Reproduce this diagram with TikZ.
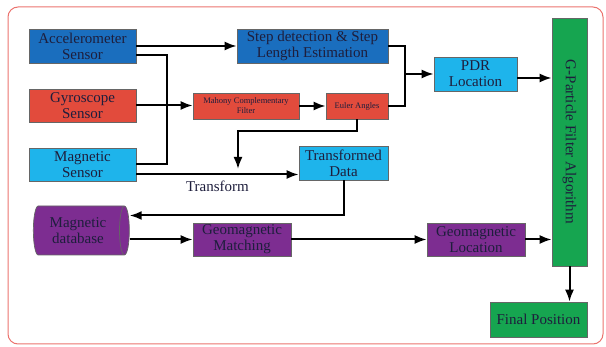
\documentclass[tikz,border=0pt]{standalone}
\usepackage{fontspec}
\setmainfont{Liberation Serif}
\usepackage{graphicx}
\usetikzlibrary{arrows.meta,shapes.geometric}
\definecolor{dblue}{RGB}{26,110,190}
\definecolor{lblue}{RGB}{30,180,235}
\definecolor{bred}{RGB}{226,75,60}
\definecolor{bpurple}{RGB}{125,45,145}
\definecolor{bgreen}{RGB}{22,165,80}
\definecolor{txt}{RGB}{30,30,60}
\definecolor{frame}{RGB}{235,115,110}

\begin{document}
\begin{tikzpicture}[x = 1pt, y = -1pt]
\tikzstyle{boxStyle} = [shape = rectangle, draw = black!60, line width = 0.7pt, inner sep = 1pt, align = center, text = txt, font = \fontsize{15}{16}\selectfont]
\tikzstyle{smallStyle} = [boxStyle, font = \fontsize{8.5}{10}\selectfont]
\tikzstyle{lineStyle} = [line width = 2pt]
\tikzstyle{arrowStyle} = [lineStyle, -{Latex[length=12pt, width=9pt]}]
\useasboundingbox (0,0) rectangle (606,347);
\draw[frame, line width = 1pt, rounded corners = 10pt] (8,7) rectangle (603,344);
\node[boxStyle, fill = dblue, minimum width = 107pt, minimum height = 34pt] (acc) at (82.5,46) {Accelerometer\\Sensor};
\node[boxStyle, fill = bred, minimum width = 107pt, minimum height = 33pt] (gyr) at (82.5,105.5) {Gyroscope\\Sensor};
\node[boxStyle, fill = lblue, minimum width = 107pt, minimum height = 33pt] (mag) at (82.5,164.5) {Magnetic\\Sensor};
\node[boxStyle, fill = dblue, minimum width = 151pt, minimum height = 34pt] (step) at (312.5,46) {Step detection \& Step\\Length Estimation};
\node[smallStyle, fill = bred, minimum width = 106pt, minimum height = 26pt] (mah) at (246,106) {Mahony Complementary\\Filter};
\node[smallStyle, fill = bred, minimum width = 62pt, minimum height = 26pt] (eul) at (357,106) {Euler Angles};
\node[boxStyle, fill = lblue, minimum width = 83pt, minimum height = 34pt] (pdr) at (475.5,74) {PDR\\Location};
\node[boxStyle, fill = bgreen, minimum width = 35pt, minimum height = 248pt] (gpf) at (569.5,142) {\rotatebox{-90}{G-Particle Filter Algorithm}};
\node[boxStyle, fill = lblue, minimum width = 89pt, minimum height = 34pt] (tfd) at (343.5,163) {Transformed\\Data};
\node[boxStyle, shape = cylinder, aspect = 0.35, fill = bpurple, minimum width = 49pt, minimum height = 96pt] (mdb) at (78,230.5) {Magnetic\\database};
\node[boxStyle, fill = bpurple, minimum width = 98pt, minimum height = 33pt] (gmm) at (242,239.5) {Geomagnetic\\Matching};
\node[boxStyle, fill = bpurple, minimum width = 98pt, minimum height = 33pt] (gml) at (476,239.5) {Geomagnetic\\Location};
\node[boxStyle, fill = bgreen, minimum width = 97pt, minimum height = 35pt] (fin) at (538.5,319.5) {Final Position};
\coordinate (mrg) at (405,74);
\coordinate (tdn) at (238,169);
\draw[arrowStyle] (acc) -- (step);
\draw[lineStyle] ([yshift=-9pt]acc.east) -- ++(31,0) |- (mag.east);
\draw[arrowStyle] (gyr.east) -- (gyr.east -| mah.west);
\draw[arrowStyle] ([yshift=-10pt]mag.east) -- ([yshift=-10pt]mag.east -| tfd.west) node[midway, below = 2pt, text = txt, font = \fontsize{15}{16}\selectfont] {Transform};
\draw[arrowStyle] (mah) -- (eul);
\draw[arrowStyle] (eul.south) -- ++(0,12) -| (tdn);
\draw[lineStyle] (step.east) -| (mrg);
\draw[lineStyle] (eul.east) -| (mrg);
\draw[arrowStyle] (mrg) -- (pdr.west);
\draw[arrowStyle] ([yshift=-4pt]pdr.east) -- ([yshift=-4pt]pdr.east -| gpf.west);
\draw[arrowStyle] (tfd.south) |- ([yshift=15pt]mdb.east);
\draw[arrowStyle] (mdb.east |- gmm) -- (gmm);
\draw[arrowStyle] (gmm) -- (gml);
\draw[arrowStyle] (gml) -- (gml -| gpf.west);
\draw[arrowStyle] (gpf.south) -- (gpf.south |- fin.north);
\end{tikzpicture}
\end{document}
